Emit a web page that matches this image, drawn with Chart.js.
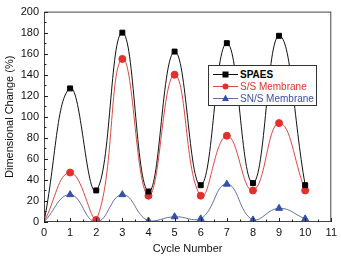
<!DOCTYPE html>
<html><head><meta charset="utf-8">
<script src="https://cdn.jsdelivr.net/npm/chart.js@4/dist/chart.umd.min.js"></script>
<style>
html,body{margin:0;padding:0;background:#fff;}
#wrap{position:relative;width:341px;height:256px;}
#legend{position:absolute;left:208px;top:65px;width:109px;height:41px;border:1px solid #333;background:#fff;font-family:"Liberation Sans",Arial,sans-serif;font-size:10px;box-sizing:border-box;}
.row{position:absolute;left:0;height:13px;line-height:13px;white-space:nowrap;}
.row canvas{position:absolute;left:3px;top:0;}
.row span{position:absolute;left:31px;top:0;}
</style></head><body>
<div id="wrap"><canvas id="c" width="341" height="256"></canvas>
<div id="legend">
<div class="row" style="top:2px"><canvas id="l0" width="28" height="13"></canvas><span style="color:#000;font-weight:bold">SPAES</span></div>
<div class="row" style="top:14px"><canvas id="l1" width="28" height="13"></canvas><span style="color:#e0332c">S/S Membrane</span></div>
<div class="row" style="top:26px"><canvas id="l2" width="28" height="13"></canvas><span style="color:#3b4f9e">SN/S Membrane</span></div>
</div></div>
<script>
const cycles = [0,1,2,3,4,5,6,7,8,9,10];
const spaes  = [0,127,30,180,29,162,35,170,37,177,35];
const ssMem  = [0,47,2,155,25,140,25,82,30,94,30];
const snsMem = [0,26,0,26,1,5,3,36,2,13,3];
const xTicks = [0,1,2,3,4,5,6,7,8,9,10,11];
const yTicks = [0,20,40,60,80,100,120,140,160,180,200];

const series = [
  {label:'SPAES', data:spaes, line:'#111', mark:'#000', style:'rect'},
  {label:'S/S Membrane', data:ssMem, line:'#d84a42', mark:'#e3302a', style:'circle'},
  {label:'SN/S Membrane', data:snsMem, line:'#6470a0', mark:'#3550a8', style:'triangle'}
];

const frame = {
  id:'frame',
  afterDatasetsDraw(chart){
    const {ctx, chartArea:a, scales} = chart;
    ctx.save();
    ctx.strokeStyle='#444'; ctx.lineWidth=1;
    ctx.strokeRect(a.left+0.5, a.top+0.5, a.right-a.left-1, a.bottom-a.top-1);
    ctx.strokeStyle='#222';
    ctx.beginPath();
    for(let v=0; v<=200; v+=10){
      const y=Math.round(scales.y.getPixelForValue(v))+0.5;
      const len = v%20===0?4:2.5;
      ctx.moveTo(a.left, y); ctx.lineTo(a.left+len, y);
    }
    for(let v=0; v<=11; v+=0.5){
      const x=Math.round(scales.x.getPixelForValue(v))+0.5;
      const len = v%1===0?4:2.5;
      ctx.moveTo(x, a.bottom); ctx.lineTo(x, a.bottom-len);
    }
    ctx.stroke();
    ctx.restore();
  }
};

new Chart(document.getElementById('c'), {
  type:'line',
  data:{
    datasets: series.map(s=>({
      label:s.label,
      data: cycles.map((c,i)=>({x:c, y:s.data[i]})),
      borderColor:s.line, borderWidth:1,
      backgroundColor:s.mark, pointBackgroundColor:s.mark, pointBorderColor:s.mark,
      pointStyle:s.style,
      pointRadius: cycles.map(c=> c===0 ? 0 : (s.style==='triangle'?4:3.5)),
      tension:0.45, fill:false
    }))
  },
  options:{
    responsive:false, animation:false,
    layout:{padding:{left:3,right:8,top:10,bottom:0}},
    plugins:{legend:{display:false}, tooltip:{enabled:false}},
    scales:{
      x:{type:'linear', min:0, max:11,
        afterBuildTicks(s){ s.ticks = xTicks.map(v=>({value:v})); },
        afterFit(s){ s.height=34; },
        grid:{display:false, drawTicks:false}, border:{display:false},
        ticks:{padding:4, color:'#111', font:{family:'"Liberation Sans", Arial, sans-serif', size:11}, maxRotation:0},
        title:{display:true, text:'Cycle Number', color:'#111', padding:{top:2,bottom:0}, font:{family:'"Liberation Sans", Arial, sans-serif', size:11}}
      },
      y:{type:'linear', min:0, max:200,
        afterBuildTicks(s){ s.ticks = yTicks.map(v=>({value:v})); },
        afterFit(s){ s.width=41; },
        grid:{display:false, drawTicks:false}, border:{display:false},
        ticks:{padding:5, color:'#111', font:{family:'"Liberation Sans", Arial, sans-serif', size:11}},
        title:{display:true, text:'Dimensional Change (%)', color:'#111', padding:{top:0,bottom:2}, font:{family:'"Liberation Sans", Arial, sans-serif', size:11}}
      }
    }
  },
  plugins:[frame]
});

series.forEach((s,i)=>{
  const ctx=document.getElementById('l'+i).getContext('2d');
  ctx.strokeStyle=s.line; ctx.lineWidth=1;
  ctx.beginPath(); ctx.moveTo(1,6.5); ctx.lineTo(26,6.5); ctx.stroke();
  ctx.fillStyle=s.mark;
  ctx.beginPath();
  if(s.style==='rect'){ ctx.fillRect(10.5,3.5,6,6); }
  else if(s.style==='circle'){ ctx.arc(13.5,6.5,3,0,Math.PI*2); ctx.fill(); }
  else { ctx.moveTo(13.5,2.5); ctx.lineTo(17,9); ctx.lineTo(10,9); ctx.closePath(); ctx.fill(); }
});
</script>
</body></html>
